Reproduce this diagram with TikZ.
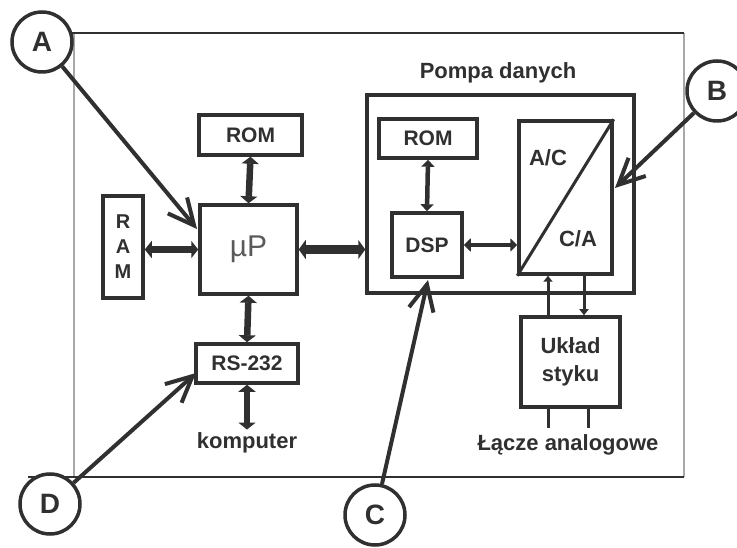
\documentclass[tikz,border=0pt]{standalone}
\usepackage{fontspec}
\setmainfont{Liberation Sans}
\usetikzlibrary{arrows.meta,calc}
\definecolor{ink}{HTML}{303030}
\definecolor{framegray}{HTML}{A8A8A8}
\begin{document}
\begin{tikzpicture}[x=1pt,y=-1pt,
  box/.style={draw=ink, line width=3.5pt, inner sep=0pt, text=ink,
    font=\fontsize{21}{24}\selectfont\bfseries},
  lbl/.style={inner sep=0pt, text=ink, font=\fontsize{22}{26}\selectfont\bfseries},
  mark circle/.style={circle, draw=ink, fill=white, line width=3.5pt, minimum size=60pt,
    inner sep=0pt, text=ink, font=\fontsize{28}{30}\selectfont\bfseries},
  bus/.style={draw=ink, line width=6.5pt, {Triangle[width=17pt,length=7pt]}-{Triangle[width=17pt,length=7pt]}},
  bigbus/.style={draw=ink, line width=9pt, {Triangle[width=19pt,length=7pt]}-{Triangle[width=19pt,length=7pt]}},
  link/.style={draw=ink, line width=4.5pt, {Triangle[width=13pt,length=7pt]}-{Triangle[width=13pt,length=7pt]}},
  sig/.style={draw=ink, line width=3pt, -{Triangle[width=9pt,length=6pt]}},
  pointer/.style={draw=ink, line width=4pt, -{Straight Barb[length=26pt,width=25pt,line width=4pt]}},
]
\useasboundingbox (0,0) rectangle (737,548);
\fill[white] (0,0) rectangle (737,548);

% outer frame
\draw[framegray, line width=1.4pt] (74,33) -- (74,477);
\draw[framegray, line width=1.4pt] (684,33) -- (684,477);
\draw[ink, line width=2.2pt] (12,33) -- (684,33);
\draw[ink, line width=2.2pt] (28,477) -- (684,477);

% left part
\node[box, minimum width=103pt, minimum height=40pt] (rom1) at (250.5,135) {ROM};
\node[box, minimum width=97pt, minimum height=89pt, font=\fontsize{30}{30}\selectfont, text=ink!80] (mup) at (248.5,249.5) {µP};
\node[box, minimum width=40pt, minimum height=102pt, align=center, font=\fontsize{20}{25}\selectfont\bfseries] (ram) at (123,247) {R\\A\\M};
\node[box, minimum width=102pt, minimum height=39pt] (rs) at (247,363.5) {RS-232};
\node[lbl] (komp) at (247,443) {komputer};

% data pump
\node[lbl] (pompatxt) at (498,73) {Pompa danych};
\node[box, minimum width=267pt, minimum height=198pt] (pompa) at (500.5,194) {};
\node[box, minimum width=98pt, minimum height=39pt] (rom2) at (428,138.5) {ROM};
\node[box, minimum width=70pt, minimum height=64pt] (dsp) at (427,245) {DSP};
\node[box, minimum width=93pt, minimum height=153pt] (ac) at (565.5,197.5) {};
\draw[ink, line width=3pt] (ac.south west) -- (ac.north east);
\node[lbl] (actxt) at (548,158) {A/C};
\node[lbl] (catxt) at (578,239) {C/A};
\node[box, minimum width=99pt, minimum height=90pt, align=center, font=\fontsize{22}{28}\selectfont\bfseries] (uklad) at (570.5,362) {Układ\\styku};
\node[lbl] (lacze) at (568,445) {Łącze analogowe};

% connections
\draw[bus] (rom1.south) -- (mup.north);
\draw[bus] (ram.east |- mup.west) -- (mup.west);
\draw[bus] (mup.south) -- (rs.north);
\draw[bus] (rs.south) -- ($(komp.north)+(0,-3)$);
\draw[bigbus] (mup.east) -- (pompa.west |- mup.east);
\draw[link] (rom2.south) -- (dsp.north);
\draw[link] (dsp.east) -- (ac.west |- dsp.east);
\coordinate (upx) at (548,0);
\coordinate (dnx) at (584,0);
\draw[sig] (upx |- uklad.north) -- (upx |- ac.south);
\draw[sig] (dnx |- ac.south) -- (dnx |- uklad.north);
\coordinate (l1) at (548,428);
\coordinate (l2) at (588,428);
\draw[ink, line width=3pt] (l1 |- uklad.south) -- (l1);
\draw[ink, line width=3pt] (l2 |- uklad.south) -- (l2);

% markers
\node[mark circle] (A) at (42,42) {A};
\node[mark circle] (B) at (717,91) {B};
\node[mark circle] (C) at (375,515) {C};
\node[mark circle] (D) at (50,504) {D};
\coordinate (atip) at (197,229);
\coordinate (btip) at (615,188);
\coordinate (ctip) at (428,280);
\coordinate (dtip) at (196,373);
\draw[pointer] (A) -- (atip);
\draw[pointer] (B) -- (btip);
\draw[pointer] (C) -- (ctip);
\draw[pointer] (D) -- (dtip);
\end{tikzpicture}
\end{document}
